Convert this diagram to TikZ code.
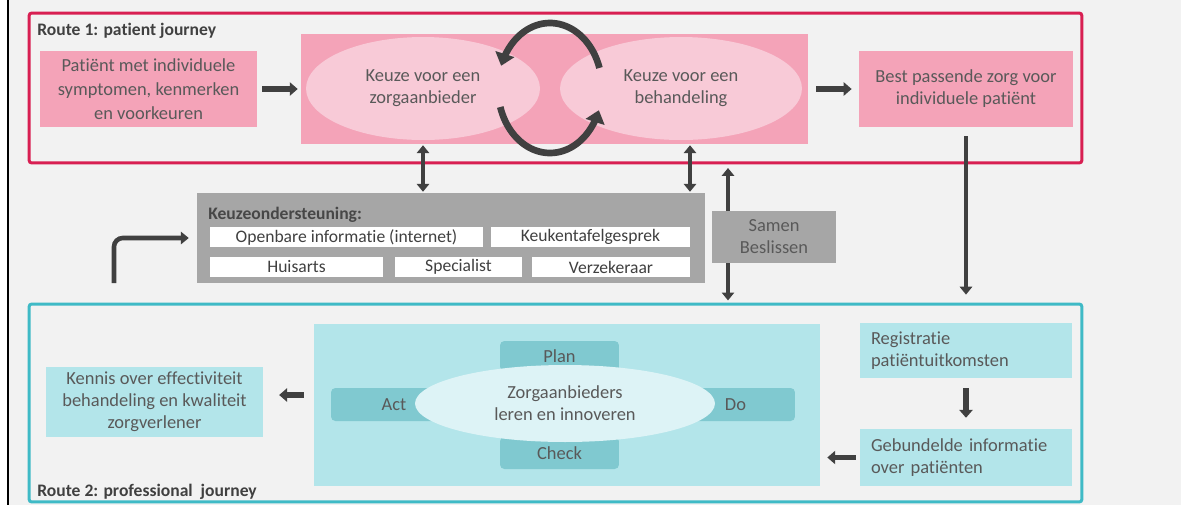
\documentclass[tikz,border=0pt]{standalone}
\usepackage{fontspec}
\setmainfont{Carlito}[Ligatures={NoCommon}]
\usetikzlibrary{arrows.meta,calc,positioning,shapes.geometric}

\definecolor{pagegray}{HTML}{F2F2F2}
\definecolor{routered}{HTML}{D81F52}
\definecolor{routecyan}{HTML}{3FBAC6}
\definecolor{pinkfill}{HTML}{F4A3B8}
\definecolor{pinklight}{HTML}{F8CAD7}
\definecolor{cyanfill}{HTML}{B3E5EA}
\definecolor{cyandark}{HTML}{80C9D0}
\definecolor{cyanlight}{HTML}{DDF3F6}
\definecolor{keuzegray}{HTML}{A6A6A6}
\definecolor{arrowgray}{HTML}{404040}
\definecolor{labelgray}{HTML}{595959}

\tikzset{
  box/.style={rectangle, inner sep=0pt, align=center, text=labelgray},
  patbox/.style={box, fill=pinkfill},
  keuzeell/.style={ellipse, inner sep=0pt, align=center, text=labelgray, fill=pinklight},
  frame/.style={rectangle, draw, line width=1.7pt, rounded corners=1.5pt, inner sep=0pt},
  bronbox/.style={box, fill=white, text=arrowgray, font=\fontsize{10}{12}\selectfont},
  cyanbox/.style={box, fill=cyanfill},
  pdcabox/.style={box, fill=cyandark, rounded corners=2.5pt},
  routelabel/.style={anchor=west, inner sep=0pt, font=\bfseries, text=arrowgray},
  blockarrow/.style={draw=arrowgray, line width=3.4pt, -{Triangle[length=4.5pt,width=7.5pt]}},
  linkarrow/.style={draw=arrowgray, line width=2.3pt, -{Triangle[length=4.5pt,width=7pt]}},
  dblarrow/.style={draw=arrowgray, line width=2.3pt, {Triangle[length=4.5pt,width=7pt]}-{Triangle[length=4.5pt,width=7pt]}},
  cyclearrow/.style={draw=arrowgray, line width=3.8pt, -{Triangle[length=7pt,width=11pt]}}
}

\begin{document}
\begin{tikzpicture}[x=0.02cm, y=-0.02cm, font=\fontsize{10.5}{12.5}\selectfont]
\useasboundingbox (0,0) rectangle (1181,505);
\fill[pagegray] (0,0) rectangle (1181,505);
\fill[white] (0,0) rectangle (7,505);
\draw[black, line width=1.2pt] (8,0) -- (8,505);

% route 1
\node[frame, draw=routered, minimum width=21.06cm, minimum height=3cm] (r1) at (555.5,88) {};
\node[routelabel] at (37,31) {Route 1: patient journey};

\node[patbox, minimum width=4.34cm, minimum height=1.52cm, font=\fontsize{10.5}{13.5}\selectfont] (pat) at (148.5,89)
  {Patiënt met individuele\\symptomen, kenmerken\\en voorkeuren};
\node[box, fill=pinkfill, minimum width=10.14cm, minimum height=2.2cm] (keuze) at (554.5,89) {};
\node[keuzeell, minimum width=4.68cm, minimum height=2.06cm] (ell1) at (423,88.5) {Keuze voor een\\zorgaanbieder};
\node[keuzeell, minimum width=4.84cm, minimum height=2.06cm] (ell2) at (681,88.5) {Keuze voor een\\behandeling};
\node[patbox, minimum width=4.28cm, minimum height=1.52cm] (best) at (966,89)
  {Best passende zorg voor\\individuele patiënt};

% cycle between the two choices
\draw[cyclearrow] plot[domain=18:160, samples=40, variable=\t] ({550+52*cos(\t)},{88-65*sin(\t)});
\draw[cyclearrow] plot[domain=197:340, samples=40, variable=\t] ({550+52*cos(\t)},{88-65*sin(\t)});

\draw[blockarrow, shorten <=2.8pt, shorten >=1.7pt] (pat) -- (keuze);
\draw[blockarrow, shorten <=4.5pt, shorten >=4pt] (keuze) -- (best);

% route 2
\node[frame, draw=routecyan, minimum width=21.06cm, minimum height=3.96cm] (r2) at (555.5,403) {};
\node[routelabel] at (37,492) {Route 2: professional\ \ journey};

% keuzeondersteuning
\node[box, fill=keuzegray, minimum width=10.16cm, minimum height=1.8cm] (steun) at (451,238) {};
\node[routelabel, text=labelgray!80!black] at (208,215) {Keuzeondersteuning:};
\node[bronbox, minimum width=5.46cm, minimum height=0.4cm] (info) at (346.5,237) {Openbare informatie (internet)};
\node[bronbox, minimum width=3.98cm, minimum height=0.4cm] (keuken) at (590.5,237) {Keukentafelgesprek};
\node[bronbox, minimum width=3.46cm, minimum height=0.4cm] (huisarts) at (296.5,267) {Huisarts};
\node[bronbox, minimum width=2.54cm, minimum height=0.4cm] (specialist) at (458.5,267) {Specialist};
\node[bronbox, minimum width=3.16cm, minimum height=0.4cm] (verzekeraar) at (611,267) {Verzekeraar};

\draw[dblarrow, shorten <=0.5pt, shorten >=0.5pt] (keuze.south -| ell1) -- (steun.north -| ell1);
\draw[dblarrow, shorten <=0.5pt, shorten >=0.5pt] ($(keuze.south -| ell2)+(9,0)$) -- ($(steun.north -| ell2)+(9,0)$);

\coordinate (beslis) at (728,0);
\draw[dblarrow, shorten <=2pt, shorten >=1.2pt] (r1.south -| beslis) -- (r2.north -| beslis);
\node[box, fill=keuzegray, minimum width=2.48cm, minimum height=1.04cm] (samen) at (774,237) {Samen\\Beslissen};

\draw[linkarrow, shorten <=5pt, shorten >=4.5pt] (best.south) -- (best.south |- r2.north);

\coordinate (loopstart) at (114,283);
\draw[linkarrow, line width=2.6pt, rounded corners=5pt, shorten >=4.5pt] (loopstart) |- (steun.west);

% pdca cycle
\node[box, fill=cyanfill, minimum width=10.12cm, minimum height=3.24cm] (pdca) at (567,405) {};
\node[pdcabox, minimum width=2.38cm, minimum height=0.6cm] (plan) at (559.5,356) {Plan};
\node[pdcabox, minimum width=2.38cm, minimum height=0.64cm] (check) at (559.5,453) {Check};
\node[pdcabox, minimum width=2.52cm, minimum height=0.66cm] (act) at (394,404.5) {Act};
\node[pdcabox, minimum width=2.38cm, minimum height=0.66cm] (do) at (735.5,404.5) {Do};
\node[ellipse, fill=cyanlight, inner sep=0pt, align=center, text=labelgray, minimum width=6.0cm, minimum height=1.54cm] (zorg) at (565,403.5)
  {Zorgaanbieders\\leren en innoveren};

\node[cyanbox, minimum width=4.34cm, minimum height=1.4cm] (kennis) at (154.5,402)
  {Kennis over effectiviteit\\behandeling en kwaliteit\\zorgverlener};
\node[cyanbox, align=left, text width=3.8cm, inner xsep=0.22cm, minimum height=1.1cm] (reg) at (966,350.5)
  {Registratie\\patiëntuitkomsten};
\node[cyanbox, align=left, text width=3.8cm, inner xsep=0.22cm, minimum height=1.14cm] (geb) at (966,457.5)
  {Gebundelde informatie\\over patiënten};

\draw[blockarrow, shorten <=5.7pt, shorten >=6.2pt] (reg) -- (geb);
\draw[blockarrow, shorten <=2.3pt, shorten >=4pt] (geb.west) -- (geb.west -| pdca.east);
\draw[blockarrow, shorten <=5.7pt, shorten >=9pt] ($(pdca.west)+(0,-10)$) -- ($(kennis.east)+(0,-7)$);
\end{tikzpicture}
\end{document}
